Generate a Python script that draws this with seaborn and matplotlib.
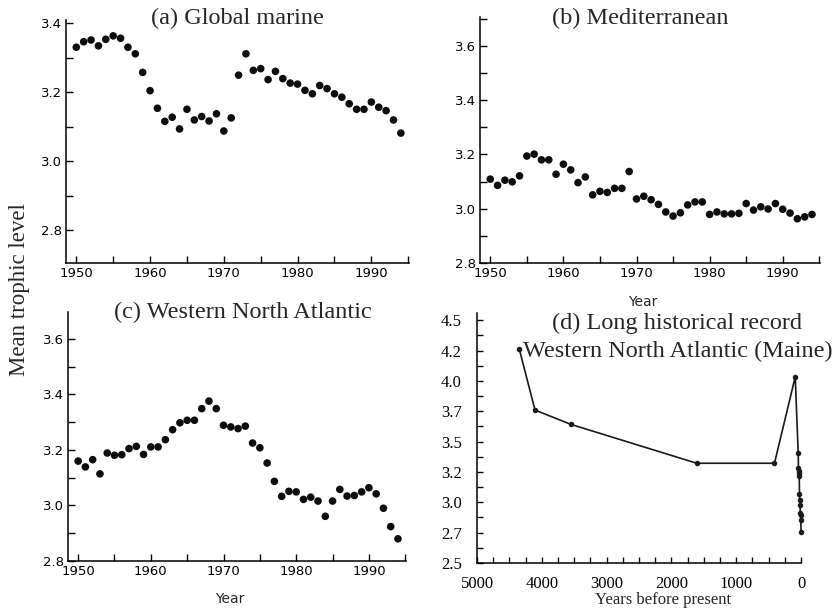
import matplotlib
matplotlib.use("Agg")
import matplotlib.pyplot as plt
from matplotlib.ticker import MultipleLocator, FixedLocator, FixedFormatter
import pandas as pd
import seaborn as sns

# ---- data -------------------------------------------------------------
years = list(range(1950, 1995))

global_marine = [3.331, 3.347, 3.352, 3.335, 3.354, 3.364, 3.357, 3.331, 3.312, 3.258,
                 3.205, 3.154, 3.116, 3.128, 3.094, 3.151, 3.120, 3.130, 3.117, 3.138,
                 3.088, 3.126, 3.250, 3.312, 3.264, 3.269, 3.237, 3.261, 3.240, 3.227,
                 3.224, 3.206, 3.196, 3.220, 3.211, 3.196, 3.186, 3.167, 3.151, 3.151,
                 3.172, 3.157, 3.147, 3.120, 3.082]

mediterranean = [3.109, 3.086, 3.105, 3.099, 3.121, 3.194, 3.201, 3.180, 3.180, 3.127,
                 3.164, 3.143, 3.096, 3.117, 3.051, 3.064, 3.060, 3.075, 3.075, 3.137,
                 3.036, 3.046, 3.033, 3.016, 2.988, 2.973, 2.985, 3.014, 3.025, 3.025,
                 2.979, 2.988, 2.981, 2.981, 2.983, 3.019, 2.995, 3.007, 2.999, 3.019,
                 2.998, 2.984, 2.963, 2.970, 2.979]

nw_atlantic = [3.160, 3.139, 3.165, 3.114, 3.189, 3.181, 3.183, 3.205, 3.213, 3.184,
               3.211, 3.211, 3.237, 3.273, 3.298, 3.307, 3.307, 3.349, 3.376, 3.349,
               3.289, 3.283, 3.277, 3.286, 3.225, 3.208, 3.153, 3.087, 3.033, 3.051,
               3.049, 3.022, 3.030, 3.016, 2.961, 3.016, 3.058, 3.034, 3.036, 3.049,
               3.064, 3.042, 2.990, 2.924, 2.880]

maine_years_bp = [4350, 4105, 3550, 1610, 410, 90,
                  44, 40, 36, 32, 28, 24, 20, 16, 12, 8, 4, 0]
maine_trophic = [4.267, 3.760, 3.642, 3.322, 3.322, 4.034,
                 3.409, 3.280, 3.258, 3.239, 3.220, 3.067, 3.020, 2.979, 2.915, 2.896,
                 2.855, 2.759]

maine_tick_values = [2.5, 2.75, 3.0, 3.25, 3.5, 3.75, 4.0, 4.25, 4.5]
maine_tick_labels = ["2.5", "2.7", "3.0", "3.2", "3.5", "3.7", "4.0", "4.2", "4.5"]
bp_tick_values = [5000, 4000, 3000, 2000, 1000, 0]

# ---- style ------------------------------------------------------------
sns.set_theme(style="ticks")
plt.rcParams["font.family"] = ["DejaVu Sans"]
SERIF = ["Liberation Serif", "DejaVu Serif"]
SANS = ["DejaVu Sans"]
TITLE_SIZE = 17.5

fig = plt.figure(figsize=(8.36, 6.08), dpi=100)
fig.patch.set_facecolor("white")

ax_a = fig.add_axes([0.0789, 0.5674, 0.4103, 0.3997])
ax_b = fig.add_axes([0.5742, 0.5674, 0.4067, 0.4046])
ax_c = fig.add_axes([0.0813, 0.0773, 0.4043, 0.4095])
ax_d = fig.add_axes([0.5706, 0.0740, 0.3876, 0.4112])


def style_axes(ax):
    for side in ("top", "right"):
        ax.spines[side].set_visible(False)
    for side in ("left", "bottom"):
        ax.spines[side].set_color("black")
        ax.spines[side].set_linewidth(1.1)
    ax.set_facecolor("white")
    ax.tick_params(axis="both", which="both", direction="in", length=5,
                   width=1.0, colors="black", labelsize=9.5)
    ax.tick_params(axis="y", which="both", pad=3)
    ax.tick_params(axis="x", which="both", pad=3)


def year_panel(ax, values, ylim, ymajor):
    df = pd.DataFrame({"Year": years, "trophic": values})
    sns.scatterplot(data=df, x="Year", y="trophic", ax=ax, color="#0d0d0d",
                    s=30, edgecolor="none", linewidth=0, legend=False)
    style_axes(ax)
    ax.set_xlim(1948.6, 1995.1)
    ax.set_ylim(*ylim)
    ax.xaxis.set_major_locator(FixedLocator([1950, 1960, 1970, 1980, 1990]))
    ax.xaxis.set_minor_locator(FixedLocator([1955, 1965, 1975, 1985, 1995]))
    ax.yaxis.set_major_locator(FixedLocator(ymajor))
    ax.yaxis.set_major_formatter(FixedFormatter([f"{v:.1f}" for v in ymajor]))
    ax.yaxis.set_minor_locator(MultipleLocator(0.1))
    ax.set_ylabel("")
    for lab in ax.get_xticklabels() + ax.get_yticklabels():
        lab.set_fontfamily(SANS)


# (a) global marine
year_panel(ax_a, global_marine, (2.705, 3.41), [2.8, 3.0, 3.2, 3.4])
ax_a.set_xlabel("")
ax_a.text(0.5, 1.008, "(a) Global marine", transform=ax_a.transAxes,
          ha="center", va="center", fontsize=TITLE_SIZE, family=SERIF)

# (b) Mediterranean
year_panel(ax_b, mediterranean, (2.8, 3.706), [2.8, 3.0, 3.2, 3.4, 3.6])
ax_b.set_xlabel("Year", fontsize=10, labelpad=11, family=SANS)
ax_b.xaxis.label.set_x(0.48)
ax_b.text(0.47, 0.996, "(b) Mediterranean", transform=ax_b.transAxes,
          ha="center", va="center", fontsize=TITLE_SIZE, family=SERIF)

# (c) Western North Atlantic
year_panel(ax_c, nw_atlantic, (2.8, 3.697), [2.8, 3.0, 3.2, 3.4, 3.6])
ax_c.set_xlabel("Year", fontsize=10, labelpad=10, family=SANS)
ax_c.xaxis.label.set_x(0.48)
ax_c.text(0.518, 1.0, "(c) Western North Atlantic", transform=ax_c.transAxes,
          ha="center", va="center", fontsize=TITLE_SIZE, family=SERIF)

# (d) long historical record, Maine
df_d = pd.DataFrame({"bp": maine_years_bp, "trophic": maine_trophic})
sns.lineplot(data=df_d, x="bp", y="trophic", ax=ax_d, sort=False, estimator=None,
             color="#1a1a1a", linewidth=1.2, marker="o", markersize=3.2,
             markeredgecolor="#1a1a1a", clip_on=False)
style_axes(ax_d)
ax_d.set_xlim(5000, 0)
ax_d.set_ylim(2.5, 4.56)
ax_d.xaxis.set_major_locator(FixedLocator(bp_tick_values))
ax_d.xaxis.set_minor_locator(MultipleLocator(250))
ax_d.yaxis.set_major_locator(FixedLocator(maine_tick_values))
ax_d.yaxis.set_major_formatter(FixedFormatter(maine_tick_labels))
ax_d.yaxis.set_minor_locator(MultipleLocator(0.125))
ax_d.tick_params(axis="both", which="both", labelsize=12, length=4)
ax_d.tick_params(axis="y", which="both", pad=11)
ax_d.tick_params(axis="x", which="both", pad=9)
for lab in ax_d.get_xticklabels() + ax_d.get_yticklabels():
    lab.set_fontfamily(SERIF)
ax_d.set_ylabel("")
ax_d.set_xlabel("Years before present", fontsize=12, family=SERIF, labelpad=0)
ax_d.xaxis.label.set_x(0.574)
ax_d.text(0.617, 0.96, "(d) Long historical record", transform=ax_d.transAxes,
          ha="center", va="center", fontsize=TITLE_SIZE, family=SERIF)
ax_d.text(0.62, 0.848, "Western North Atlantic (Maine)", transform=ax_d.transAxes,
          ha="center", va="center", fontsize=TITLE_SIZE, family=SERIF)

# shared y label
fig.text(20 / 836, 1 - 290 / 608, "Mean trophic level", rotation=90,
         ha="center", va="center", fontsize=16.5, family=SERIF)

fig.savefig("out.png", dpi=100, facecolor="white")
